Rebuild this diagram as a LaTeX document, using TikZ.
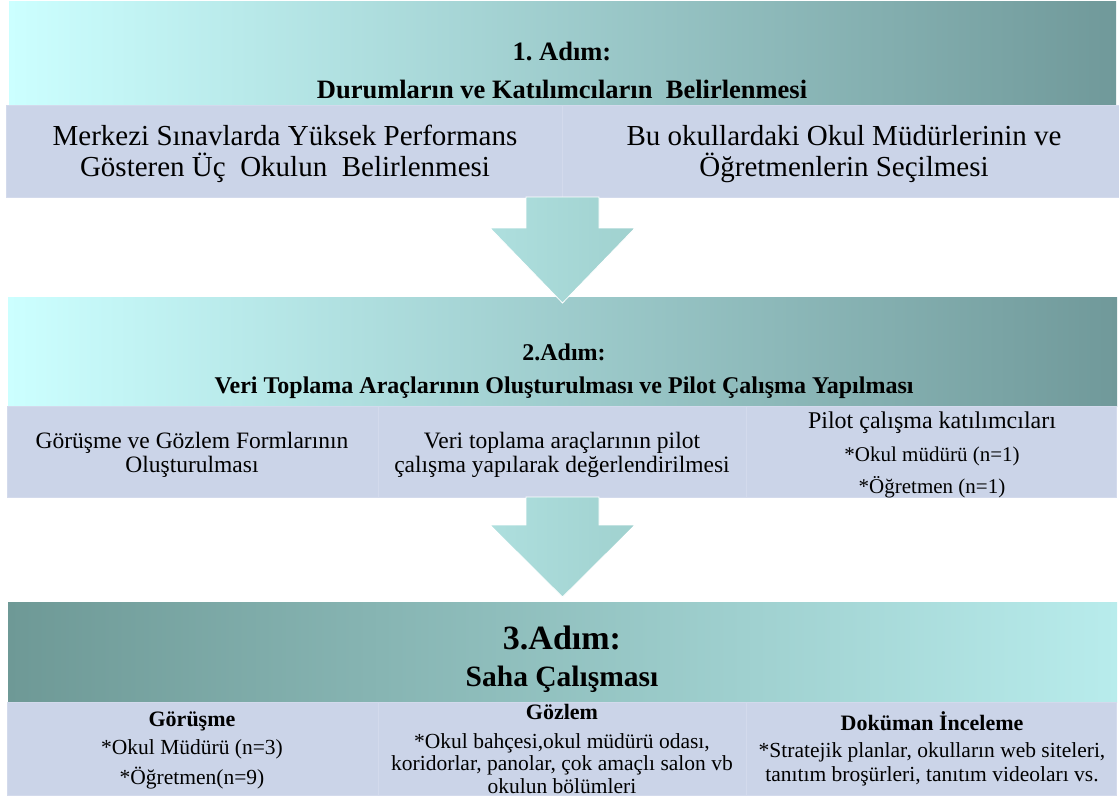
\documentclass[tikz,border=0pt]{standalone}
\usepackage{fontspec}
\setmainfont{Liberation Serif}
\usetikzlibrary{calc}
\frenchspacing

\definecolor{tealLight}{HTML}{CCFFFF}
\definecolor{tealMid}{HTML}{A8DBDA}
\definecolor{tealDark}{HTML}{70999A}
\definecolor{tealDarkB}{HTML}{6E9996}
\definecolor{tealLightB}{HTML}{B8ECEC}
\definecolor{panel}{HTML}{CBD4E8}
\definecolor{panelEdge}{HTML}{D3DAEC}
\definecolor{arrowL}{HTML}{AEDFDE}
\definecolor{arrowR}{HTML}{A0D1CF}

\newcommand{\fsz}[2]{\fontsize{#1}{#2}\selectfont}

% multi-line nodes are anchored on the baseline of their last line
\tikzset{
  banner/.style={rectangle, inner sep=0pt, outer sep=0pt, anchor=north west,
    minimum height=#1},
  bannerdown/.style={left color=tealLight, middle color=tealMid, right color=tealDark},
  bannerup/.style={left color=tealDarkB, middle color=tealMid!85!tealDarkB, right color=tealLightB},
  panelbox/.style={rectangle, inner sep=0pt, outer sep=0pt, anchor=north west,
    fill=panel, draw=panelEdge, line width=0.8pt},
  txt/.style={anchor=base, align=center, inner sep=0pt},
  flowarrow/.style={left color=arrowL, right color=arrowR, draw=white, line width=0.8pt},
}

\begin{document}
\begin{tikzpicture}[x=1pt, y=-1pt]
\useasboundingbox (0,0) rectangle (1119,798);

% ---------- step 1 ----------
\node[banner=104, minimum width=1107, bannerdown] (b1) at (9,1) {};
\node[panelbox, minimum width=556, minimum height=92] (p1a) at (6,105) {};
\node[panelbox, minimum width=557, minimum height=92] (p1b) at (562,105) {};

\node[txt, font=\bfseries\fsz{26.5}{38}] (t1) at (562,98)
  {1. Adım:\\Durumların ve Katılımcıların\ \ Belirlenmesi};
\node[txt, font=\fsz{29}{31}] (t1a) at (285,176)
  {Merkezi Sınavlarda Yüksek Performans\\Gösteren Üç\ \ Okulun\ \ Belirlenmesi};
\node[txt, font=\fsz{29}{31}] (t1b) at (844,176)
  {Bu okullardaki Okul Müdürlerinin ve\\Öğretmenlerin Seçilmesi};

% ---------- step 2 ----------
\node[banner=109, minimum width=1109, bannerdown] (b2) at (8,297) {};
\node[panelbox, minimum width=371, minimum height=91] (p2a) at (7,406) {};
\node[panelbox, minimum width=368, minimum height=91] (p2b) at (378,406) {};
\node[panelbox, minimum width=370, minimum height=91] (p2c) at (746,406) {};

\node[txt, font=\bfseries\fsz{24}{33}] (t2) at (564,393)
  {2.Adım:\\Veri Toplama Araçlarının Oluşturulması ve Pilot Çalışma Yapılması};
\node[txt, font=\fsz{23.5}{24}] (t2a) at (192,472)
  {Görüşme ve Gözlem Formlarının\\Oluşturulması};
\node[txt, font=\fsz{23.5}{24}] (t2b) at (562,472)
  {Veri toplama araçlarının pilot\\çalışma yapılarak değerlendirilmesi};
\node[txt, font=\fsz{24}{24}] (t2c) at (932,428) {Pilot çalışma katılımcıları};
\node[txt, font=\fsz{21}{32}] (t2d) at (932,493) {*Okul müdürü (n=1)\\*Öğretmen (n=1)};

% ---------- step 3 ----------
\node[banner=100, minimum width=1109, bannerup] (b3) at (8,602) {};
\node[panelbox, minimum width=371, minimum height=93] (p3a) at (7,702) {};
\node[panelbox, minimum width=368, minimum height=93] (p3b) at (378,702) {};
\node[panelbox, minimum width=370, minimum height=93] (p3c) at (746,702) {};

\node[txt, font=\bfseries\fsz{34}{34}] (t3) at (562,649) {3.Adım:};
\node[txt, font=\bfseries\fsz{29.5}{30}] (t3s) at (562,686) {Saha Çalışması};

\node[txt, font=\bfseries\fsz{22}{22}] (h3a) at (192,726) {Görüşme};
\node[txt, font=\fsz{21.5}{30}] (t3a) at (192,784) {*Okul Müdürü (n=3)\\*Öğretmen(n=9)};

\node[txt, font=\bfseries\fsz{22}{22}] (h3b) at (562,719) {Gözlem};
\node[txt, font=\fsz{21.5}{22.5}] (t3b) at (562,793)
  {*Okul bahçesi,okul müdürü odası,\\koridorlar, panolar, çok amaçlı salon vb\\okulun bölümleri};

\node[txt, font=\bfseries\fsz{22}{22}] (h3c) at (932,730) {Doküman İnceleme};
\node[txt, font=\fsz{21.5}{24}] (t3c) at (932,781)
  {*Stratejik planlar, okulların web siteleri,\\tanıtım broşürleri, tanıtım videoları vs.};

% ---------- block arrows between the steps ----------
\shade[flowarrow]
  ($(p1a.south east)+(-36,0)$) -- ++(0,31) -- ++(-36,0) -- ($(b2.north)+(0,6)$)
  -- ++(72.5,-75) -- ++(-36,0) -- ++(0,-31) -- cycle;
\shade[flowarrow]
  ($(p2b.south)+(-36,0)$) -- ++(0,28) -- ++(-36,0) -- ($(b3.north)+(0,-5)$)
  -- ++(72.5,-72) -- ++(-36,0) -- ++(0,-28) -- cycle;
\end{tikzpicture}
\end{document}
